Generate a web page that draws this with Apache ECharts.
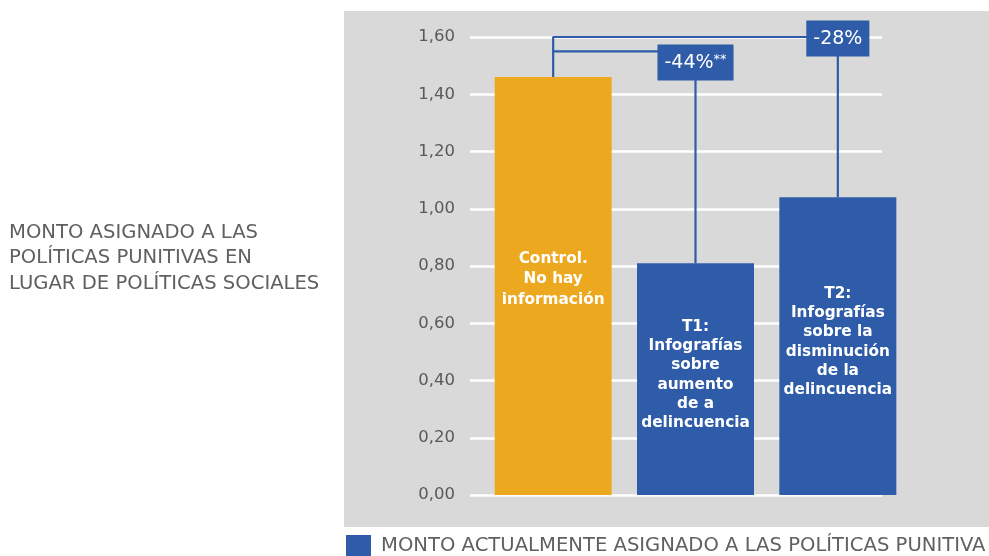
<!DOCTYPE html>
<html>
<head>
<meta charset="utf-8">
<script src="https://cdn.jsdelivr.net/npm/echarts@6/dist/echarts.min.js"></script>
<style>html,body{margin:0;padding:0;background:#fff;}#c{width:989px;height:556px;}</style>
</head>
<body>
<div id="c"></div>
<script>
var categories = ['Control.\nNo hay\ninformación', 'T1:\nInfografías\nsobre\naumento\nde a\ndelincuencia', 'T2:\nInfografías\nsobre la\ndisminución\nde la\ndelincuencia'];
var values = [1.46, 0.81, 1.04];
var barColors = ['#eca91f', '#2e5ca8', '#2e5ca8'];
var yTicks = [0, 0.2, 0.4, 0.6, 0.8, 1.0, 1.2, 1.4, 1.6];
var bracketTop = 1.6;   // control vs T2
var bracketMid = 1.55;  // control vs T1
var diffLabels = ['-44%**', '-28%'];
var diffLabelY = [1.511, 1.595];
var yTitle = 'MONTO ASIGNADO A LAS\nPOLÍTICAS PUNITIVAS EN\nLUGAR DE POLÍTICAS SOCIALES';
var legendName = 'MONTO ACTUALMENTE ASIGNADO A LAS POLÍTICAS PUNITIVA';

var FONT = 'DejaVu Sans';
var BLUE = '#2e5ca8';
var chart = echarts.init(document.getElementById('c'));
chart.setOption({
  animation: false,
  textStyle: {fontFamily: FONT},
  graphic: [{
    type: 'rect', z: -100, silent: true,
    shape: {x: 344, y: 11, width: 645, height: 516},
    style: {fill: '#d9d9d9'}
  }, {
    type: 'text', left: 9, top: 220, silent: true,
    style: {text: yTitle, fill: '#606060', font: '19.6px "' + FONT + '"', lineHeight: 25.5}
  }],
  legend: {
    left: 346, top: 535, padding: 0, itemWidth: 25, itemHeight: 22, itemGap: 10,
    icon: 'rect',
    textStyle: {fontSize: 19.6, color: '#606060', fontFamily: FONT, padding: [10, 0, 0, 5]},
    data: [legendName]
  },
  grid: [
    {left: 470, right: 107, top: 37, bottom: 61},
    {left: 482, right: 80, top: 37, bottom: 61}
  ],
  xAxis: [
    {gridIndex: 0, type: 'category', data: categories, show: false},
    {gridIndex: 1, type: 'category', data: categories, show: false}
  ],
  yAxis: [
    {gridIndex: 0, type: 'value', min: 0, max: 1.6, interval: 0.2,
     axisLine: {show: false}, axisTick: {show: false},
     splitLine: {lineStyle: {color: '#ffffff', width: 2.5}},
     axisLabel: {margin: 15, fontSize: 16.5, color: '#595959', fontFamily: FONT,
       formatter: function (v) { return v.toFixed(2).replace('.', ','); }}
    },
    {gridIndex: 1, type: 'value', min: 0, max: 1.6, interval: 0.2, show: false, splitLine: {show: false}}
  ],
  series: [
    {
      name: legendName, type: 'bar', xAxisIndex: 1, yAxisIndex: 1, barWidth: 117,
      itemStyle: {color: BLUE},
      data: values.map(function (v, i) {
        return {value: v, itemStyle: {color: barColors[i]},
          label: {offset: [0, i === 0 ? -7 : -4], lineHeight: i === 0 ? 20.5 : 19.3}};
      }),
      label: {show: true, position: 'inside', color: '#fff', fontWeight: 'bold', fontSize: 15.3,
        lineHeight: 19.3, fontFamily: FONT,
        formatter: function (p) { return categories[p.dataIndex]; }}
    },
    {
      type: 'line', xAxisIndex: 1, yAxisIndex: 1, symbol: 'none', silent: true, z: 3,
      lineStyle: {color: BLUE, width: 2.2},
      data: [[0, values[0]], [0, bracketTop], [2, bracketTop], [2, values[2]]]
    },
    {
      type: 'line', xAxisIndex: 1, yAxisIndex: 1, symbol: 'none', silent: true, z: 3,
      lineStyle: {color: BLUE, width: 2.2},
      data: [[0, bracketMid], [1, bracketMid], [1, values[1]]]
    },
    {
      type: 'scatter', xAxisIndex: 1, yAxisIndex: 1, symbolSize: 1, silent: true, z: 5,
      itemStyle: {color: BLUE, opacity: 1},
      data: [[1, diffLabelY[0]], [2, diffLabelY[1]]],
      label: {
        show: true, position: 'inside', backgroundColor: BLUE, padding: [9, 7, 8, 7],
        color: '#fff', fontSize: 19, fontFamily: FONT, opacity: 1,
        formatter: function (p) {
          var t = diffLabels[p.dataIndex];
          var m = t.match(/^(.*?)(\*+)$/);
          return m ? '{a|' + m[1] + '}{b|' + m[2] + '}' : '{a|' + t + '}';
        },
        rich: {
          a: {fontSize: 19, color: '#fff', fontFamily: FONT},
          b: {fontSize: 13, color: '#fff', fontFamily: FONT, verticalAlign: 'top', padding: [0, 0, 6, 0]}
        }
      }
    }
  ]
});
</script>
</body>
</html>
